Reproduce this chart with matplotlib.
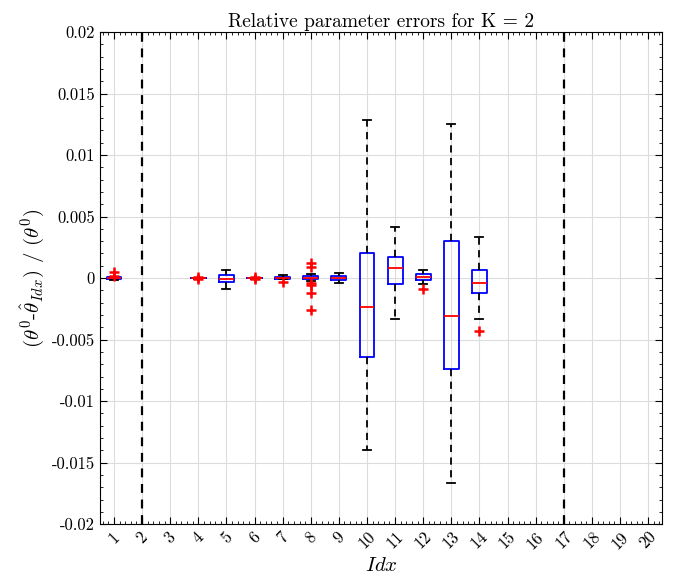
import matplotlib.pyplot as plt
from matplotlib.ticker import MultipleLocator

plt.rcParams['font.family'] = 'serif'
plt.rcParams['font.serif'] = ['cmr10', 'DejaVu Serif']
plt.rcParams['mathtext.fontset'] = 'cm'
plt.rcParams['axes.unicode_minus'] = False

# Box statistics per parameter index
idx = [1, 4, 5, 6, 7, 8, 9, 10, 11, 12, 13, 14]
med = [0.0, 0.0, -0.0001, 0.0, 0.0, 0.0, 0.0, -0.00238, 0.00079, 0.00005, -0.00306, -0.00043]
q1 = [-0.00008, -0.00002, -0.00035, -0.00002, -0.00005, -0.0001, -0.00016, -0.0064, -0.00049, -0.00019, -0.00743, -0.00125]
q3 = [0.00008, 0.00002, 0.00024, 0.00002, 0.00005, 0.00016, 0.00016, 0.0020, 0.00173, 0.0003, 0.00303, 0.00065]
whislo = [-0.00015, -0.00004, -0.00092, -0.00004, -0.0001, -0.00025, -0.00038, -0.0140, -0.00331, -0.00049, -0.01667, -0.00336]
whishi = [0.0001, 0.00004, 0.00065, 0.00004, 0.00024, 0.0003, 0.00038, 0.01285, 0.00417, 0.00065, 0.0125, 0.00333]
fliers = [
    [0.0005, 0.0002],
    [0.00008, -0.00007],
    [],
    [0.00008, -0.00006],
    [-0.00035],
    [0.0012, 0.00092, -0.00043, -0.00057, -0.00125, -0.0026],
    [],
    [],
    [],
    [-0.0009],
    [],
    [-0.00428],
]
split_idx = [2, 17]

stats = []
for i in range(len(idx)):
    stats.append(dict(med=med[i], q1=q1[i], q3=q3[i], whislo=whislo[i],
                      whishi=whishi[i], fliers=fliers[i]))

fig = plt.figure(figsize=(6.75, 5.83), dpi=100)
ax = fig.add_axes([0.148, 0.101, 0.833, 0.844])

for x in split_idx:
    ax.axvline(x, color='black', linestyle=(0, (4, 3)), linewidth=1.6, zorder=3)

ax.bxp(stats, positions=idx, widths=0.53, showfliers=True,
       boxprops=dict(color='blue', linewidth=1.3),
       medianprops=dict(color='red', linewidth=1.3),
       whiskerprops=dict(color='black', linestyle=(0, (4, 3)), linewidth=1.3),
       capprops=dict(color='black', linewidth=1.3),
       flierprops=dict(marker='+', markeredgecolor='red', markersize=7, markeredgewidth=1.8),
       capwidths=0.28)

ax.set_xlim(0.5, 20.5)
ax.set_ylim(-0.02, 0.02)
ax.set_xticks(range(1, 21))
ax.set_xticklabels([str(i) for i in range(1, 21)], rotation=45, fontsize=12)
yt = [-0.02, -0.015, -0.01, -0.005, 0, 0.005, 0.01, 0.015, 0.02]
ax.set_yticks(yt)
ax.set_yticklabels(['-0.02', '-0.015', '-0.01', '-0.005', '0', '0.005', '0.01', '0.015', '0.02'], fontsize=12)
ax.xaxis.set_minor_locator(MultipleLocator(0.2))
ax.yaxis.set_minor_locator(MultipleLocator(0.001))
ax.tick_params(which='both', direction='in', top=True, right=True)
ax.tick_params(which='major', length=5)
ax.tick_params(which='minor', length=2.5)
ax.grid(True, which='major', color='#dcdcdc', linewidth=0.8)
ax.set_axisbelow(True)

ax.set_title('Relative parameter errors for K = 2', fontsize=14, pad=4)
ax.set_xlabel(r'$Idx$', fontsize=15)
ax.set_ylabel(r'$(\theta^0$-$\hat{\theta}_{Idx})$ / $(\theta^0)$', fontsize=15)

fig.savefig('out.png', dpi=100)
